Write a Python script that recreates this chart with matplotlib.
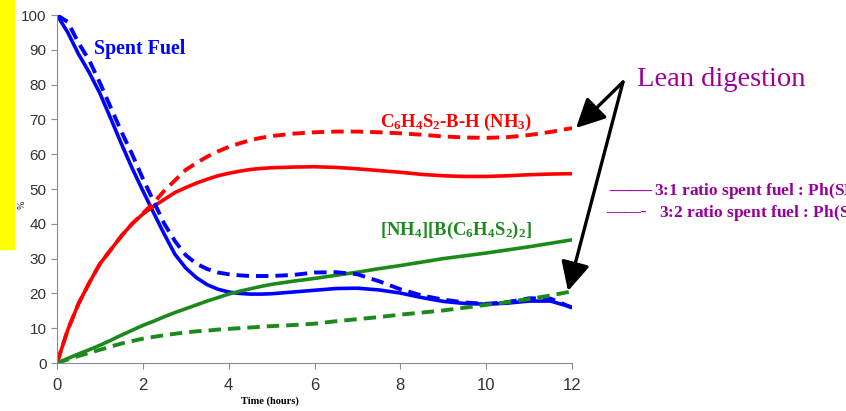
import matplotlib

matplotlib.use("Agg")
import matplotlib.pyplot as plt
from matplotlib.patches import FancyArrowPatch, Rectangle

plt.rcParams["mathtext.fontset"] = "custom"
plt.rcParams["mathtext.rm"] = "Liberation Serif:bold"
plt.rcParams["mathtext.it"] = "Liberation Serif:bold"
plt.rcParams["mathtext.bf"] = "Liberation Serif:bold"
plt.rcParams["mathtext.default"] = "rm"

# time axis, hours (finer steps where the curves bend most)
hours = [0, 0.25, 0.5, 0.75, 1, 1.25, 1.5, 1.75, 2, 2.25, 2.5, 2.75, 3, 3.25,
         3.5, 3.75, 4, 4.25, 4.5, 4.75, 5, 5.5, 6, 6.5, 7, 7.5, 8, 8.5, 9,
         9.5, 10, 10.5, 11, 11.5, 12]

# 3:1 ratio (solid lines)
fuel_31 = [100, 95, 88.8, 83.5, 77.5, 70.3, 63, 56, 49.5, 43.2, 37, 31.2, 27.3,
           24.5, 22.5, 21.2, 20.4, 20, 19.8, 19.8, 19.9, 20.4, 20.9, 21.4, 21.5,
           21, 20.1, 18.8, 17.7, 17.1, 16.9, 17.2, 17.8, 17.8, 16]
bh_31 = [0, 9.5, 17, 23, 28.5, 32.5, 36.5, 40, 42.8, 45, 47, 49, 50.4, 51.7,
         52.8, 53.8, 54.5, 55.1, 55.6, 55.9, 56.1, 56.3, 56.4, 56.2, 55.8, 55.3,
         54.8, 54.2, 53.8, 53.6, 53.6, 53.8, 54.1, 54.3, 54.4]
nh4_31 = [0, 1.3, 2.6, 3.8, 5.1, 6.5, 8, 9.4, 10.8, 12, 13.3, 14.5, 15.6, 16.7,
          17.8, 18.8, 19.8, 20.6, 21.3, 22, 22.6, 23.5, 24.3, 25.2, 26.1, 27.1,
          28, 29, 30, 30.8, 31.6, 32.5, 33.4, 34.4, 35.4]

# 3:2 ratio (dashed lines)
fuel_32 = [100, 98, 92, 87, 80.5, 73.5, 66.5, 60, 53, 46.5, 40, 35, 31, 28.5,
           27, 26, 25.5, 25.2, 25, 25, 25, 25.3, 26, 26.1, 25.5, 23.5, 21.2,
           19.4, 18.2, 17.4, 17, 17.5, 18.6, 18.5, 15.9]
bh_32 = [0, 9.5, 17, 23, 28.5, 32.5, 36.5, 40, 43, 46, 49.5, 52.5, 55.5, 57.5,
         59.3, 60.8, 62.1, 63.1, 64, 64.7, 65.2, 65.9, 66.3, 66.5, 66.5, 66.3,
         66, 65.6, 65.1, 64.8, 64.7, 64.9, 65.5, 66.4, 67.5]
nh4_32 = [0, 1, 2, 2.9, 3.8, 4.7, 5.6, 6.3, 7, 7.5, 8, 8.4, 8.8, 9.1, 9.3, 9.6,
          9.8, 10, 10.2, 10.4, 10.6, 10.9, 11.3, 12, 12.6, 13.2, 13.9, 14.5,
          15.1, 15.9, 16.7, 17.5, 18.4, 19.4, 20.6]

xticks = [0, 2, 4, 6, 8, 10, 12]
yticks = [0, 10, 20, 30, 40, 50, 60, 70, 80, 90, 100]

BLUE = "#0000ff"
RED = "#ff0000"
GREEN = "#1b8a1b"
PURPLE = "#990099"

W, H = 846, 411
fig = plt.figure(figsize=(W / 100, H / 100), dpi=100)
ax = fig.add_axes([57 / W, 1 - 363 / H, (572 - 57) / W, (363 - 15) / H])

fig.patches.append(Rectangle((0, 1 - 249 / H), 14 / W, 249 / H,
                             transform=fig.transFigure, color="#ffff00", zorder=0))

dash = dict(ls="--", dashes=(3.2, 1.8), lw=2.8)
ax.plot(hours, fuel_31, color=BLUE, lw=2.6)
ax.plot(hours, bh_31, color=RED, lw=2.6)
ax.plot(hours, nh4_31, color=GREEN, lw=2.6)
ax.plot(hours, fuel_32, color=BLUE, **dash)
ax.plot(hours, bh_32, color=RED, **dash)
ax.plot(hours, nh4_32, color=GREEN, **dash)

ax.set_xlim(0, 12)
ax.set_ylim(0, 100)
ax.set_xticks(xticks)
ax.set_yticks(yticks)
for s in ("top", "right"):
    ax.spines[s].set_visible(False)
for s in ("left", "bottom"):
    ax.spines[s].set_color("#8c8c8c")
ax.tick_params(colors="#8c8c8c", length=4, labelcolor="#333333")
ax.tick_params(axis="y", labelsize=11)
ax.tick_params(axis="x", labelsize=12, pad=7)
for lab in ax.get_xticklabels() + ax.get_yticklabels():
    lab.set_family("Liberation Sans")
ax.patch.set_visible(False)

serif = "Liberation Serif"
ax.text(0.86, 88.8, "Spent Fuel", color=BLUE, fontsize=14.4, weight="bold",
        family=serif, va="baseline")
ax.text(9.3, 67.8, r"C$_6$H$_4$S$_2$-B-H (NH$_3$)", color=RED, fontsize=13.4,
        weight="bold", family=serif, ha="center", va="baseline")
ax.text(9.3, 36.8, r"[NH$_4$][B(C$_6$H$_4$S$_2$)$_2$]", color=GREEN, fontsize=13.4,
        weight="bold", family=serif, ha="center", va="baseline")

fig.text(22 / W, 1 - 205 / H, "%", rotation=90, fontsize=6.5, color="#333333",
         ha="center", va="center")
fig.text(270 / W, 1 - 401 / H, "Time (hours)", fontsize=7.5, weight="bold",
         family=serif, ha="center", va="center")

# the legend lines run off the right edge, as in the original slide
fig.text(637 / W, 1 - 80 / H, "Lean digestion", color=PURPLE, fontsize=20.5,
         family=serif, va="center")
fig.text(609 / W, 1 - 192 / H, "\u2014\u2014", color=PURPLE, fontsize=15.5,
         weight="bold", family=serif, va="center")
fig.text(654 / W, 1 - 191 / H, "3:1 ratio spent fuel : Ph(SH)$_2$",
         color=PURPLE, fontsize=12.5, weight="bold", family=serif, va="center")
fig.text(606 / W, 1 - 212 / H, "\u2014\u2014-", color=PURPLE, fontsize=12.5,
         weight="bold", family=serif, va="center")
fig.text(659 / W, 1 - 213 / H, "3:2 ratio spent fuel : Ph(SH)$_2$",
         color=PURPLE, fontsize=12.5, weight="bold", family=serif, va="center")

arrow = dict(arrowstyle="-|>,head_length=1.1,head_width=0.55", color="black",
             lw=2.4, mutation_scale=16, shrinkA=0, shrinkB=0)
for tip in [(576, 128), (568, 291)]:
    fig.add_artist(FancyArrowPatch(
        (623 / W, 1 - 82 / H), (tip[0] / W, 1 - tip[1] / H),
        transform=fig.transFigure, **arrow))

fig.savefig("out.png", dpi=100)
